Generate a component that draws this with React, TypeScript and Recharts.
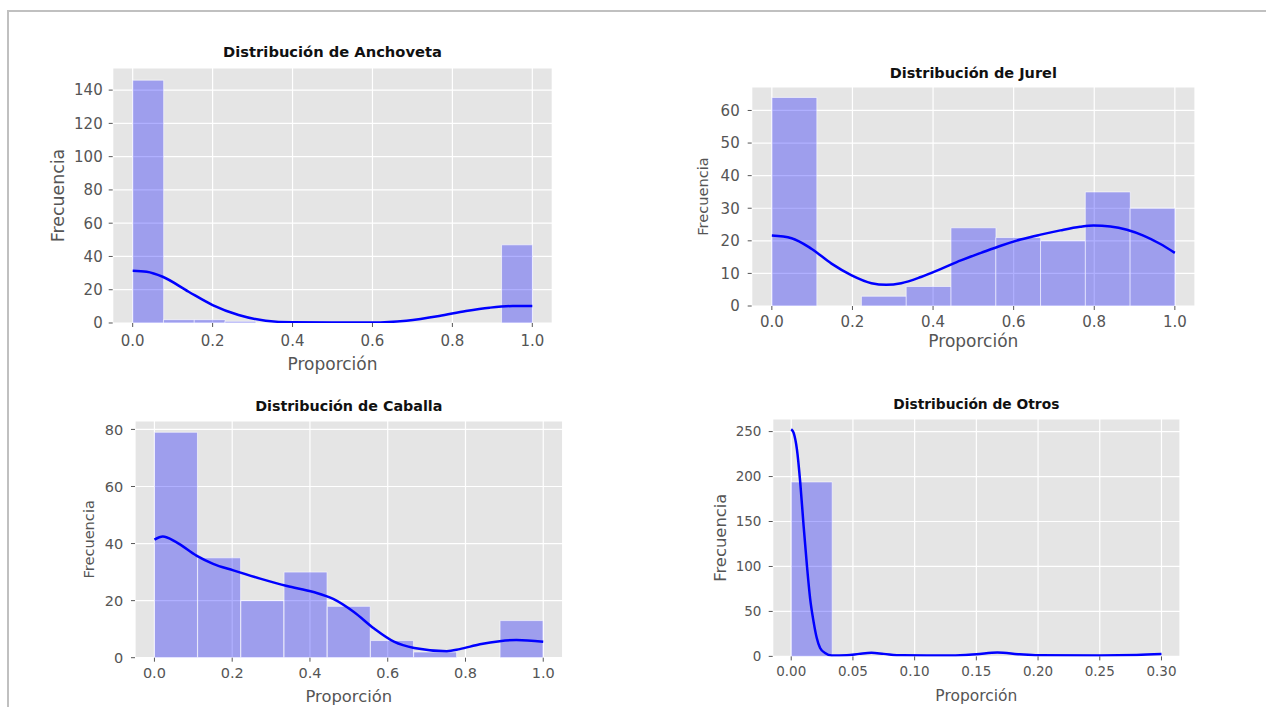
import React from 'react';
import { ComposedChart, Bar, Line, XAxis, YAxis, CartesianGrid } from 'recharts';

// ---- Anchoveta ----
const anchovetaCounts = [146, 2, 2, 1, 0, 0, 0, 0, 0, 0, 0, 0, 47];
const anchovetaKdeX = [0, 0.035, 0.075, 0.14, 0.2, 0.265, 0.333, 0.4, 0.5, 0.6, 0.685, 0.767, 0.834, 0.893, 0.951, 1.0];
const anchovetaKdeY = [31.4, 30.8, 27.8, 18.8, 10.8, 4.8, 1.4, 0.4, 0.3, 0.3, 1.4, 4.2, 7.2, 9.2, 10.2, 10.2];
const anchovetaYTicks = [0, 20, 40, 60, 80, 100, 120, 140];

// ---- Jurel ----
const jurelCounts = [64, 0, 3, 6, 24, 21, 20, 35, 30];
const jurelKdeX = [0, 0.049, 0.099, 0.148, 0.198, 0.247, 0.284, 0.321, 0.37, 0.42, 0.469, 0.519, 0.568, 0.617, 0.667, 0.716, 0.765, 0.798, 0.84, 0.881, 0.922, 0.963, 1.0];
const jurelKdeY = [21.6, 20.8, 17.5, 13.0, 9.4, 7.0, 6.5, 7.0, 8.9, 11.4, 14.0, 16.3, 18.5, 20.4, 21.9, 23.2, 24.3, 24.7, 24.4, 23.4, 21.6, 19.1, 16.3];
const jurelYTicks = [0, 10, 20, 30, 40, 50, 60];

// ---- Caballa ----
const caballaCounts = [79, 35, 20, 30, 18, 6, 2, 0, 13];
const caballaKdeX = [0, 0.0215, 0.056, 0.108, 0.151, 0.203, 0.272, 0.341, 0.409, 0.461, 0.513, 0.565, 0.616, 0.668, 0.752, 0.785, 0.837, 0.888, 0.931, 1.0];
const caballaKdeY = [41.4, 42.5, 40.5, 35.8, 32.9, 30.6, 27.7, 25.1, 23.0, 20.5, 16.0, 10.2, 5.6, 3.4, 2.3, 3.0, 4.7, 5.8, 6.2, 5.6];
const caballaYTicks = [0, 20, 40, 60, 80];

// ---- Otros ----
const otrosCounts = [194, 0, 0, 0, 0, 0, 0, 0, 0];
const otrosKdeX = [0, 0.0019, 0.0046, 0.0073, 0.01, 0.0127, 0.0153, 0.0181, 0.0207, 0.0234, 0.0274, 0.0328, 0.045, 0.055, 0.065, 0.075, 0.09, 0.11, 0.13, 0.15, 0.167, 0.185, 0.2, 0.25, 0.28, 0.3];
const otrosKdeY = [252.7, 248.9, 230.5, 193.6, 145.7, 101.4, 64.6, 38.7, 20.4, 9.3, 3.8, 1.1, 1.3, 2.8, 4.0, 2.8, 1.2, 1.0, 1.1, 2.5, 4.3, 2.3, 1.2, 1.1, 1.6, 2.6];
const otrosYTicks = [0, 50, 100, 150, 200, 250];

const unitTicks = [0, 0.2, 0.4, 0.6, 0.8, 1.0];
const otrosXTicks = [0, 0.05, 0.1, 0.15, 0.2, 0.25, 0.3];

const FONT = 'DejaVu Sans';
const TEXT_GRAY = '#555555';

type Box = { left: number; top: number; right: number; bottom: number };

interface PanelProps {
  counts: number[];
  binRange: [number, number];
  kdeX: number[];
  kdeY: number[];
  xDomain: [number, number];
  yDomain: [number, number];
  xTicks: number[];
  yTicks: number[];
  xDigits: number;
  box: Box;
  chartLeft: number;
  yLabelX: number;
  xLabelBaseline: number;
  tickFont: number;
  xLabelFont: number;
  yLabelFont: number;
  yTickMargin: number;
  xTickMargin: number;
}

const Panel: React.FC<PanelProps> = (p) => {
  const n = p.counts.length;
  const w = (p.binRange[1] - p.binRange[0]) / n;
  const bins = p.counts.map((c, i) => ({ x: p.binRange[0] + (i + 0.5) * w, count: c }));
  const kde = p.kdeX.map((x, i) => ({ x, y: p.kdeY[i] }));

  const mTop = 4;
  const mBottom = 6;
  const mRight = 6;
  const yAxisW = p.box.left - p.chartLeft;
  const xAxisH = p.xLabelBaseline - p.box.bottom;
  const width = p.box.right - p.chartLeft + mRight;
  const height = p.box.bottom - p.box.top + mTop + xAxisH + mBottom;

  return (
    <div style={{ position: 'absolute', left: p.chartLeft, top: p.box.top - mTop, fontFamily: FONT }}>
      <ComposedChart
        width={width}
        height={height}
        data={bins}
        margin={{ top: mTop, right: mRight, bottom: mBottom, left: 0 }}
        barCategoryGap={0}
        barGap={0}
      >
        <CartesianGrid xAxisId="kde" stroke="#ffffff" strokeWidth={1.2} fill="#e5e5e5" fillOpacity={1} />
        {/* hidden axis for the bars, so bar width = bin width */}
        <XAxis xAxisId="bins" dataKey="x" type="number" domain={p.xDomain} hide height={0} allowDataOverflow />
        <XAxis
          xAxisId="kde"
          dataKey="x"
          type="number"
          domain={p.xDomain}
          ticks={p.xTicks}
          interval={0}
          allowDataOverflow
          height={xAxisH}
          axisLine={false}
          tickLine={{ stroke: TEXT_GRAY }}
          tickSize={4}
          tickMargin={p.xTickMargin}
          tick={{ fill: TEXT_GRAY, fontSize: p.tickFont, fontFamily: FONT }}
          tickFormatter={(v: number) => v.toFixed(p.xDigits)}
          label={{ value: 'Proporción', position: 'insideBottom', offset: 0, fill: TEXT_GRAY, fontSize: p.xLabelFont, fontFamily: FONT }}
        />
        <YAxis
          type="number"
          domain={p.yDomain}
          ticks={p.yTicks}
          interval={0}
          allowDataOverflow
          width={yAxisW}
          axisLine={false}
          tickLine={{ stroke: TEXT_GRAY }}
          tickSize={4}
          tickMargin={p.yTickMargin}
          tick={{ fill: TEXT_GRAY, fontSize: p.tickFont, fontFamily: FONT }}
          label={{
            value: 'Frecuencia',
            angle: -90,
            position: 'insideLeft',
            offset: p.yLabelX - p.chartLeft,
            fill: TEXT_GRAY,
            fontSize: p.yLabelFont,
            fontFamily: FONT,
            style: { textAnchor: 'middle' },
          }}
        />
        <Bar
          xAxisId="bins"
          dataKey="count"
          fill="#0000ff"
          fillOpacity={0.31}
          stroke="#ffffff"
          strokeOpacity={0.6}
          strokeWidth={1}
          isAnimationActive={false}
        />
        <Line
          xAxisId="kde"
          data={kde}
          dataKey="y"
          type="monotone"
          stroke="#0000ff"
          strokeWidth={2.5}
          dot={false}
          activeDot={false}
          isAnimationActive={false}
        />
      </ComposedChart>
    </div>
  );
};

const titles = [
  { text: 'Distribución de Anchoveta', x: 332.5, y: 57.3, size: 14.7 },
  { text: 'Distribución de Jurel', x: 973.3, y: 77.7, size: 14.5 },
  { text: 'Distribución de Caballa', x: 348.8, y: 411, size: 14.3 },
  { text: 'Distribución de Otros', x: 976.3, y: 409.3, size: 13.8 },
];

const App: React.FC = () => {
  return (
    <div style={{ position: 'absolute', left: 0, top: 0, width: 1266, height: 707, background: '#ffffff', overflow: 'hidden' }}>
      <Panel
        counts={anchovetaCounts}
        binRange={[0, 1]}
        kdeX={anchovetaKdeX}
        kdeY={anchovetaKdeY}
        xDomain={[-0.05, 1.05]}
        yDomain={[0, 153.3]}
        xTicks={unitTicks}
        yTicks={anchovetaYTicks}
        xDigits={1}
        box={{ left: 112.7, top: 68.3, right: 552.3, bottom: 323.3 }}
        chartLeft={40}
        yLabelX={57.5}
        xLabelBaseline={370}
        tickFont={15}
        xLabelFont={17}
        yLabelFont={17.4}
        yTickMargin={6}
        xTickMargin={8}
      />
      <Panel
        counts={jurelCounts}
        binRange={[0, 1]}
        kdeX={jurelKdeX}
        kdeY={jurelKdeY}
        xDomain={[-0.05, 1.05]}
        yDomain={[0, 67.2]}
        xTicks={unitTicks}
        yTicks={jurelYTicks}
        xDigits={1}
        box={{ left: 751.7, top: 86.7, right: 1195, bottom: 305.7 }}
        chartLeft={685}
        yLabelX={702.5}
        xLabelBaseline={346.7}
        tickFont={15}
        xLabelFont={17}
        yLabelFont={14.6}
        yTickMargin={8}
        xTickMargin={6.7}
      />
      <Panel
        counts={caballaCounts}
        binRange={[0, 1]}
        kdeX={caballaKdeX}
        kdeY={caballaKdeY}
        xDomain={[-0.05, 1.05]}
        yDomain={[0, 82.95]}
        xTicks={unitTicks}
        yTicks={caballaYTicks}
        xDigits={1}
        box={{ left: 135, top: 421, right: 562.7, bottom: 657.7 }}
        chartLeft={72}
        yLabelX={89}
        xLabelBaseline={702.3}
        tickFont={14.5}
        xLabelFont={16.4}
        yLabelFont={14.6}
        yTickMargin={7.7}
        xTickMargin={6.3}
      />
      <Panel
        counts={otrosCounts}
        binRange={[0, 0.3]}
        kdeX={otrosKdeX}
        kdeY={otrosKdeY}
        xDomain={[-0.015, 0.315]}
        yDomain={[0, 264]}
        xTicks={otrosXTicks}
        yTicks={otrosYTicks}
        xDigits={2}
        box={{ left: 772.7, top: 419.3, right: 1180, bottom: 656.7 }}
        chartLeft={702}
        yLabelX={719.7}
        xLabelBaseline={701}
        tickFont={13.5}
        xLabelFont={15.5}
        yLabelFont={16.4}
        yTickMargin={7.3}
        xTickMargin={5.7}
      />
      <svg width={1266} height={707} style={{ position: 'absolute', left: 0, top: 0, pointerEvents: 'none' }}>
        <line x1={7} y1={11} x2={1266} y2={11} stroke="#c0c0c0" strokeWidth={2} />
        <line x1={8} y1={10} x2={8} y2={707} stroke="#c0c0c0" strokeWidth={2} />
        {titles.map((t) => (
          <text key={t.text} x={t.x} y={t.y} textAnchor="middle" fontFamily={FONT} fontWeight="bold" fontSize={t.size} fill="#111111">
            {t.text}
          </text>
        ))}
      </svg>
    </div>
  );
};

export default App;
